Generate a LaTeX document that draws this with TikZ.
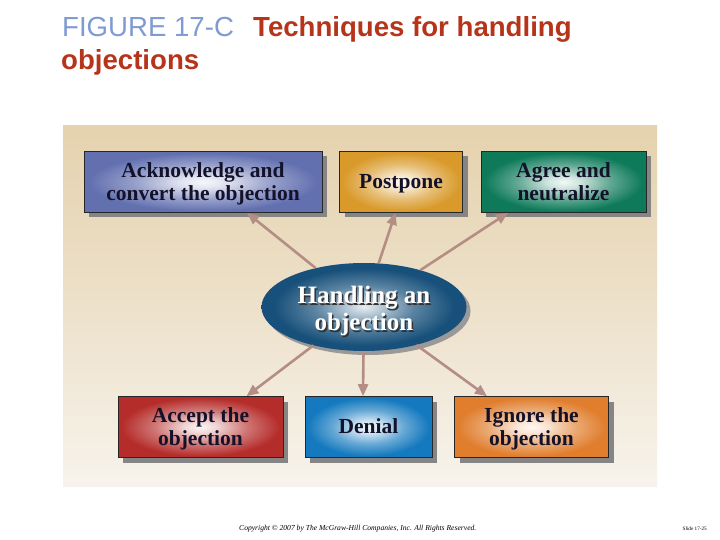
\documentclass[tikz,border=0pt]{standalone}
\usepackage{fontspec}
\setmainfont{Liberation Serif}
\newfontfamily\arialf{Liberation Sans}
\usetikzlibrary{arrows.meta,shapes.geometric,shadows,calc}
\definecolor{panelTop}{HTML}{E5D2AE}
\definecolor{panelBot}{HTML}{F7F3EC}
\definecolor{ackC}{HTML}{6270B0}
\definecolor{postC}{HTML}{D99A2B}
\definecolor{agreeC}{HTML}{0E7A5A}
\definecolor{acceptC}{HTML}{B52D2B}
\definecolor{denialC}{HTML}{1479BE}
\definecolor{ignoreC}{HTML}{E07E2E}
\definecolor{ellC}{HTML}{17507A}
\definecolor{arrC}{HTML}{B48E84}
\definecolor{figC}{HTML}{7F9BD4}
\definecolor{titC}{HTML}{B5341A}
\definecolor{txtC}{HTML}{14122A}
\colorlet{glowbase}{ackC}
\pgfdeclareradialshading[glowbase]{glow}{\pgfpoint{0bp}{0bp}}{%
  color(0bp)=(white!95!glowbase); color(5bp)=(white!80!glowbase);
  color(14bp)=(white!35!glowbase); color(24bp)=(glowbase); color(50bp)=(glowbase)}
\pgfdeclareradialshading[glowbase]{ellglow}{\pgfpoint{0bp}{0bp}}{%
  color(0bp)=(white!90!glowbase); color(4bp)=(white!70!glowbase);
  color(12bp)=(white!30!glowbase); color(22bp)=(glowbase); color(50bp)=(glowbase)}
\newcommand\shd[1]{\leavevmode\rlap{\kern1.4pt\raisebox{-1.4pt}{\color{black!80}#1}}#1}
\newcommand\lines[2][2pt]{\raisebox{-#1}[\height][\depth]{\begin{tabular}{@{}c@{}}#2\end{tabular}}}
\tikzset{
  glowfill/.style={/utils/exec={\colorlet{glowbase}{#1}},shading=glow},
  boxshadow/.style={drop shadow={shadow xshift=5pt,shadow yshift=-5pt,fill=black!48,opacity=1}},
  optbox/.style={rectangle,draw=black!85,line width=0.6pt,minimum height=61pt,
    boxshadow,glowfill=#1,inner sep=0pt,
    font=\fontsize{21.5}{23}\selectfont\bfseries,text=txtC,align=center},
  arr/.style={draw=arrC,line width=2.6pt,-{Triangle[length=12pt,width=10pt]}},
}
\begin{document}
\begin{tikzpicture}[x=1pt,y=-1pt]
\useasboundingbox (0,0) rectangle (720,540);
\fill[white] (0,0) rectangle (720,540);
% title
\node[anchor=base west,inner sep=0pt,text=figC,font=\arialf\fontsize{27.6}{30}\selectfont] (t1) at (62,37) {FIGURE 17-C};
\node[anchor=base west,inner sep=0pt,text=titC,font=\arialf\bfseries\fontsize{27.6}{30}\selectfont] (t2) at (253,37) {Techniques for handling};
\node[anchor=base west,inner sep=0pt,text=titC,font=\arialf\bfseries\fontsize{27.6}{30}\selectfont] (t3) at (61,70) {objections};
% panel
\shade[top color=panelTop,bottom color=panelBot,middle color=panelTop!55!panelBot] (63,126) rectangle (657,486);
% boxes
\node[optbox=ackC,minimum width=238pt] (ack) at (203,182) {\lines{Acknowledge and\\convert the objection}};
\node[optbox=postC,minimum width=123pt] (post) at (401,182) {\lines{Postpone}};
\node[optbox=agreeC,minimum width=165pt] (agree) at (563.5,182) {\lines{Agree and\\neutralize}};
\node[optbox=acceptC,minimum width=165pt] (accept) at (200.5,427) {\lines{Accept the\\objection}};
\node[optbox=denialC,minimum width=127pt] (denial) at (368.5,427) {\lines{Denial}};
\node[optbox=ignoreC,minimum width=154pt] (ignore) at (531.5,427) {\lines{Ignore the\\objection}};
% central ellipse
\node[ellipse,minimum width=205pt,minimum height=88pt,inner sep=0pt,
  drop shadow={shadow xshift=4pt,shadow yshift=-4pt,fill=black!40,opacity=1},
  /utils/exec={\colorlet{glowbase}{ellC}},shading=ellglow,
  text=white,font=\fontsize{25}{27}\selectfont\bfseries] (ell) at (364,307)
  {\lines[5pt]{\shd{Handling an}\\\shd{objection}}};
% arrows
\draw[arr] (ell) -- ($(ack.south)+(44,0)$);
\draw[arr] (ell) -- ($(post.south)+(-5.5,0)$);
\draw[arr] (ell) -- ($(agree.south)+(-55.5,0)$);
\draw[arr] (ell) -- ($(accept.north)+(46,0)$);
\draw[arr] (ell) -- ($(denial.north)+(-5.5,0)$);
\draw[arr] (ell) -- ($(ignore.north)+(-44.5,0)$);
% footer
\node[anchor=base west,inner sep=0pt,font=\itshape\fontsize{7.6}{8}\selectfont] (copy) at (239,530) {Copyright © 2007 by The McGraw-Hill Companies, Inc. All Rights Reserved.};
\node[anchor=base east,inner sep=0pt,font=\fontsize{5.2}{6}\selectfont] (slide) at (707,530) {Slide 17-25};
\end{tikzpicture}
\end{document}
